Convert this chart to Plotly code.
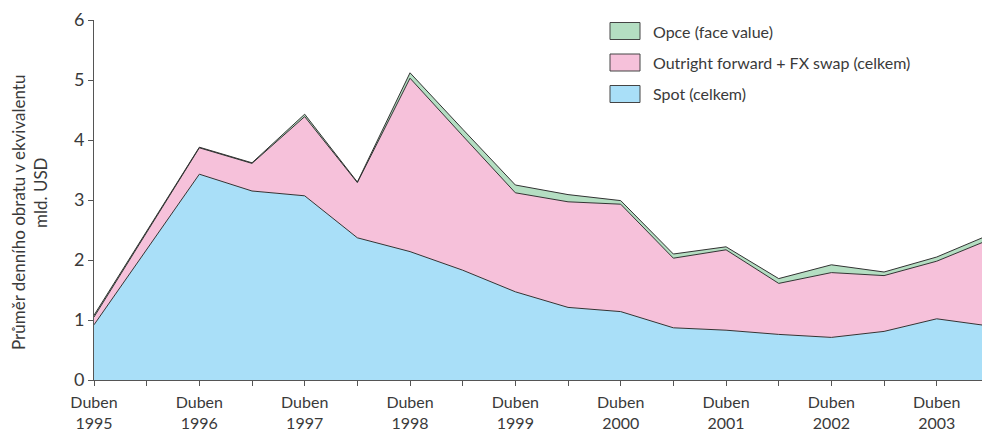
import plotly.graph_objects as go

# Half-year observation points: Apr 1995 ... Oct 2003
periods = ["Duben 1995", "Říjen 1995", "Duben 1996", "Říjen 1996", "Duben 1997", "Říjen 1997",
           "Duben 1998", "Říjen 1998", "Duben 1999", "Říjen 1999", "Duben 2000", "Říjen 2000",
           "Duben 2001", "Říjen 2001", "Duben 2002", "Říjen 2002", "Duben 2003", "Říjen 2003"]
x_idx = list(range(len(periods)))

spot = [0.92, 2.18, 3.43, 3.15, 3.07, 2.37, 2.14, 1.83, 1.47, 1.21, 1.14, 0.87,
        0.83, 0.76, 0.71, 0.81, 1.02, 0.90]
spot_plus_fwd = [1.05, 2.46, 3.87, 3.61, 4.39, 3.29, 5.03, 4.07, 3.12, 2.97, 2.93, 2.03,
                 2.17, 1.61, 1.79, 1.74, 1.98, 2.34]
total = [1.08, 2.48, 3.88, 3.62, 4.43, 3.30, 5.12, 4.18, 3.25, 3.09, 2.99, 2.10,
         2.22, 1.69, 1.92, 1.80, 2.05, 2.42]

forward = [round(m - s, 3) for m, s in zip(spot_plus_fwd, spot)]
opce = [round(t - m, 3) for t, m in zip(total, spot_plus_fwd)]

tick_text = [("Duben<br>" + p.split()[1]) if p.startswith("Duben") else "" for p in periods]

names = ["Spot (celkem)", "Outright forward + FX swap (celkem)", "Opce (face value)"]
colors = ["#A9DFF8", "#F6C1DA", "#B4DEC2"]
series = [spot, forward, opce]

y_title_lines = ["Průměr denního obratu v ekvivalentu", "mld. USD"]

FONT = "Lato"
TXT = "#3a3a3a"

fig = go.Figure()
for name, col, vals in zip(names, colors, series):
    fig.add_trace(go.Scatter(
        x=x_idx, y=vals, name=name, mode="lines", stackgroup="one",
        fillcolor=col, line=dict(color="#333333", width=1),
        showlegend=False, hoverinfo="name+y"))

# plot area in pixels: x 94..982, y 20..380
PL, PW, PT, PH = 94, 888, 20, 360

def px(x):
    return (x - PL) / PW

def py(y):
    return 1 - (y - PT) / PH

# Custom legend (boxes + labels), top to bottom: Opce, Forward, Spot
legend_order = [2, 1, 0]
for row, i in enumerate(legend_order):
    top = 22.5 + row * 31.5
    fig.add_shape(type="rect", xref="paper", yref="paper",
                  x0=px(610), x1=px(640), y0=py(top + 17), y1=py(top),
                  fillcolor=colors[i], line=dict(color="#444444", width=1))
    fig.add_annotation(xref="paper", yref="paper", x=px(651),
                       y=py(top + 8.5), text=names[i], showarrow=False,
                       xanchor="left", yanchor="middle",
                       font=dict(family=FONT, size=16, color=TXT))

# y-axis title as two rotated lines
fig.add_annotation(xref="paper", yref="paper", x=px(18), y=py(213),
                   text=y_title_lines[0], textangle=-90, showarrow=False,
                   xanchor="center", yanchor="middle",
                   font=dict(family=FONT, size=17, color=TXT))
fig.add_annotation(xref="paper", yref="paper", x=px(40), y=py(193),
                   text=y_title_lines[1], textangle=-90, showarrow=False,
                   xanchor="center", yanchor="middle",
                   font=dict(family=FONT, size=17, color=TXT))

fig.update_layout(
    width=982, height=431,
    margin=dict(l=PL, r=0, t=PT, b=431 - PT - PH, autoexpand=False),
    paper_bgcolor="white", plot_bgcolor="white",
    font=dict(family=FONT, color=TXT),
    showlegend=False,
    xaxis=dict(range=[0, PW / 52.67], tickvals=x_idx, ticktext=tick_text,
               ticks="outside", ticklen=5, tickcolor="#555555", tickwidth=1,
               ticklabelstandoff=3, automargin=False,
               showline=True, linecolor="#555555", linewidth=1,
               showgrid=False, zeroline=False,
               tickfont=dict(family=FONT, size=16, color=TXT)),
    yaxis=dict(range=[0, 6], tickvals=[0, 1, 2, 3, 4, 5, 6],
               ticks="outside", ticklen=5, tickcolor="#555555", tickwidth=1,
               automargin=False,
               showline=True, linecolor="#555555", linewidth=1,
               showgrid=False, zeroline=False,
               tickfont=dict(family=FONT, size=18, color=TXT)),
)

fig.write_html("out.html", config={"displayModeBar": False},
               post_script="document.body.style.margin='0';document.body.style.padding='0';document.body.style.overflow='hidden';")
